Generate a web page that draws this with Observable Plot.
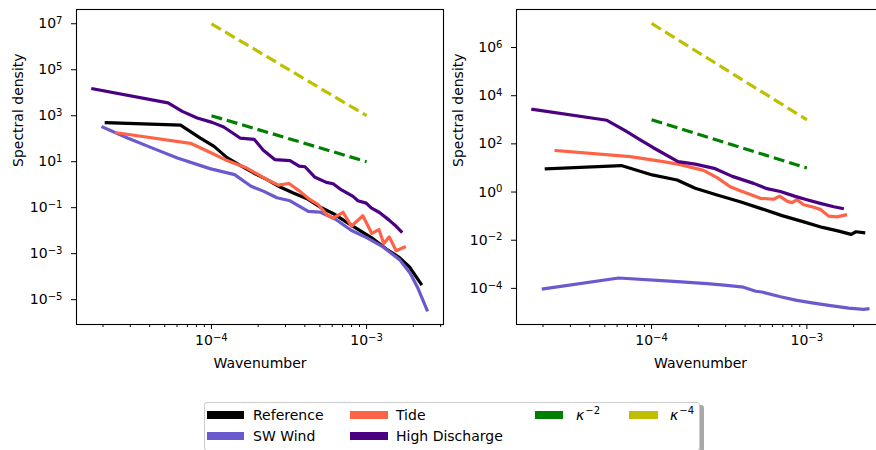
<!DOCTYPE html>
<html>
<head>
<meta charset="utf-8">
<script src="https://cdn.jsdelivr.net/npm/d3@7"></script>
<script src="https://cdn.jsdelivr.net/npm/@observablehq/plot@0.6"></script>
<style>
  html, body { margin: 0; padding: 0; background: #fff; overflow: hidden; }
  #wrap { position: relative; width: 876px; height: 450px; overflow: hidden; font-family: "DejaVu Sans", sans-serif; }
  .panel { position: absolute; top: 0; }
  #legend { position: absolute; left: 204px; top: 402px; width: 494px; height: 47px;
    border: 1px solid #cccccc; border-radius: 3px; background: #fff; box-shadow: 4px 3px 0 #a8a8a8; }
  .lg-patch { position: absolute; height: 8px; }
  .lg-text { position: absolute; font-size: 14px; line-height: 14px; color: #000; white-space: nowrap; }
</style>
</head>
<body>
<div id="wrap">
  <div id="left" class="panel" style="left:0px;width:444px"></div>
  <div id="right" class="panel" style="left:444px;width:441px"></div>
  <div id="legend"></div>
</div>
<script>
// ---------- data ----------
const seriesNames = ["Reference", "SW Wind", "Tide", "High Discharge"];
const seriesColors = ["#000000", "#6a5acd", "#ff6347", "#4b0082"];
const guideNames = ["κ−2", "κ−4"];
const guideColors = ["#008000", "#bfbf00"];

// left panel
const leftRefK = [2.10e-5, 6.32e-5, 8.49e-5, 1.04e-4, 1.26e-4, 1.53e-4, 1.87e-4, 2.28e-4, 2.77e-4, 3.37e-4, 4.10e-4, 5.0e-4, 6.08e-4, 7.41e-4, 9.02e-4, 1.10e-3, 1.34e-3, 1.63e-3, 1.89e-3, 2.24e-3];
const leftRefS = [501, 389, 107, 46.5, 15.1, 6.92, 3.24, 1.65, 0.794, 0.437, 0.251, 0.107, 0.0562, 0.0234, 0.0102, 4.47e-3, 1.58e-3, 6.76e-4, 2.63e-4, 4.9e-5];

const leftWindK = [2.0e-5, 2.88e-5, 4.17e-5, 6.03e-5, 9.77e-5, 1.41e-4, 1.80e-4, 2.16e-4, 2.64e-4, 3.21e-4, 4.21e-4, 5.0e-4, 6.31e-4, 7.94e-4, 1.0e-3, 1.26e-3, 1.63e-3, 1.91e-3, 2.15e-3, 2.45e-3];
const leftWindS = [316, 107, 38.9, 14.5, 5.01, 2.75, 0.851, 0.525, 0.269, 0.2, 0.0692, 0.0646, 0.0316, 0.0105, 5.01e-3, 2.09e-3, 5.5e-4, 1.41e-4, 2.95e-5, 3.55e-6];

const leftTideK = [2.44e-5, 7.33e-5, 1.0e-4, 1.26e-4, 1.69e-4, 2.28e-4, 2.70e-4, 3.16e-4, 3.72e-4, 4.32e-4, 4.88e-4, 5.52e-4, 6.08e-4, 7.05e-4, 7.98e-4, 9.46e-4, 1.08e-3, 1.20e-3, 1.29e-3, 1.40e-3, 1.55e-3, 1.75e-3];
const leftTideS = [182, 63.1, 24.0, 11.2, 5.31, 1.65, 0.955, 1.13, 0.513, 0.223, 0.135, 0.0501, 0.0355, 0.0631, 0.0155, 0.0447, 7.59e-3, 0.0112, 2.75e-3, 5.37e-3, 1.35e-3, 1.91e-3];

const leftHighK = [1.72e-5, 5.25e-5, 6.49e-5, 8.09e-5, 1.01e-4, 1.20e-4, 1.53e-4, 1.89e-4, 2.16e-4, 2.57e-4, 3.21e-4, 3.67e-4, 4.01e-4, 4.65e-4, 5.50e-4, 6.08e-4, 6.89e-4, 8.17e-4, 8.79e-4, 9.95e-4, 1.07e-3, 1.21e-3, 1.39e-3, 1.55e-3, 1.67e-3];
const leftHighS = [1.48e4, 3.63e3, 1.55e3, 794, 513, 324, 107, 93.3, 31.6, 12.3, 11.2, 6.46, 6.03, 2.09, 1.26, 1.10, 0.589, 0.309, 0.2, 0.158, 0.0977, 0.0617, 0.0295, 0.0155, 0.0093];

// right panel
const rightRefK = [2.10e-5, 6.38e-5, 1.01e-4, 1.46e-4, 1.91e-4, 2.64e-4, 3.72e-4, 5.13e-4, 6.92e-4, 9.55e-4, 1.26e-3, 1.58e-3, 1.93e-3, 2.07e-3, 2.32e-3];
const rightRefS = [9.23, 12.6, 5.13, 3.16, 1.43, 0.75, 0.398, 0.2, 0.105, 0.0575, 0.0339, 0.0245, 0.0174, 0.0224, 0.0204];

const rightWindK = [2.01e-5, 6.14e-5, 1.39e-4, 2.28e-4, 3.05e-4, 3.91e-4, 4.68e-4, 5.14e-4, 6.75e-4, 8.63e-4, 1.08e-3, 1.42e-3, 1.86e-3, 2.32e-3, 2.47e-3];
const rightWindS = [9.55e-5, 2.69e-4, 1.95e-4, 1.58e-4, 1.33e-4, 1.12e-4, 7.59e-5, 7.08e-5, 4.47e-5, 3.16e-5, 2.51e-5, 1.91e-5, 1.51e-5, 1.35e-5, 1.41e-5];

const rightTideK = [2.43e-5, 7.29e-5, 1.19e-4, 1.53e-4, 2.16e-4, 2.64e-4, 3.21e-4, 3.72e-4, 4.33e-4, 5.01e-4, 6.11e-4, 6.67e-4, 7.45e-4, 8.02e-4, 8.63e-4, 9.53e-4, 1.08e-3, 1.22e-3, 1.38e-3, 1.56e-3, 1.77e-3];
const rightTideS = [52.5, 29.5, 18.2, 13.8, 7.94, 3.98, 1.66, 1.13, 0.794, 0.55, 0.501, 0.676, 0.417, 0.363, 0.479, 0.295, 0.245, 0.191, 0.1, 0.0933, 0.112];

const rightHighK = [1.72e-5, 5.16e-5, 6.76e-5, 8.45e-5, 1.02e-4, 1.48e-4, 1.91e-4, 2.57e-4, 3.31e-4, 4.54e-4, 5.53e-4, 6.75e-4, 8.41e-4, 1.0e-3, 1.22e-3, 1.49e-3, 1.69e-3];
const rightHighS = [2690, 955, 355, 148, 70.8, 18.2, 14.5, 9.33, 4.47, 2.29, 1.38, 1.05, 0.661, 0.479, 0.339, 0.245, 0.209];

// guide slopes (same in both panels)
const kappaK = [1e-4, 1e-3];
const kappa2S = [1e3, 1e1];
const kappa4S = [1e7, 1e3];

// ticks
const xTicksMajor = [1e-4, 1e-3];
const xTicksMinor = [2e-5, 3e-5, 4e-5, 5e-5, 6e-5, 7e-5, 8e-5, 9e-5, 2e-4, 3e-4, 4e-4, 5e-4, 6e-4, 7e-4, 8e-4, 9e-4, 2e-3, 3e-3];
const yTicksLeft = [1e-5, 1e-3, 1e-1, 1e1, 1e3, 1e5, 1e7];
const yTicksRight = [1e-4, 1e-2, 1e0, 1e2, 1e4, 1e6];

// ---------- drawing ----------
const pts = (ks, ss) => ks.map((k, i) => ({k, s: ss[i]}));
const fmt = d => { const e = Math.round(Math.log10(d)); return "10^" + (e < 0 ? "\u2212" + (-e) : String(e)); };

function panel({series, xDomain, yDomain, yTicks, width, marginLeft}) {
  const marks = [];
  series.forEach(([ks, ss], i) => {
    marks.push(Plot.line(pts(ks, ss), {x: "k", y: "s", stroke: seriesColors[i], strokeWidth: 3.2,
      strokeLinecap: "square", strokeLinejoin: "round"}));
  });
  [kappa2S, kappa4S].forEach((ss, i) => {
    marks.push(Plot.line(pts(kappaK, ss), {x: "k", y: "s", stroke: guideColors[i], strokeWidth: 3.2,
      strokeDasharray: "11,5", strokeLinecap: "butt"}));
  });
  marks.push(Plot.frame({stroke: "#000", strokeWidth: 1.1}));
  marks.push(Plot.axisY({ticks: yTicks, tickFormat: fmt, tickSize: 5, tickPadding: 9, label: null, stroke: "#000", fill: "#000"}));
  marks.push(Plot.axisX({ticks: xTicksMajor, tickFormat: fmt, tickSize: 5, tickPadding: 6, label: null, stroke: "#000", fill: "#000"}));
  marks.push(Plot.axisX({ticks: xTicksMinor, tickFormat: () => "", tickSize: 3, label: null, stroke: "#000"}));
  marks.push(Plot.text(["Wavenumber"], {text: d => d, frameAnchor: "bottom", dy: 43, fontSize: 14, fill: "#000"}));
  marks.push(Plot.text(["Spectral density"], {text: d => d, frameAnchor: "left", rotate: -90, dx: -58, fontSize: 14, fill: "#000"}));
  const svg = Plot.plot({
    width, height: 380,
    marginLeft, marginRight: 1, marginTop: 9, marginBottom: 56,
    style: {fontFamily: "DejaVu Sans", fontSize: "14px", background: "transparent", color: "#000", overflow: "visible"},
    x: {type: "log", domain: xDomain},
    y: {type: "log", domain: yDomain},
    marks
  });
  // mathtext-like superscripts on the tick labels
  const ns = "http://www.w3.org/2000/svg";
  svg.querySelectorAll("text").forEach(t => {
    const m = t.textContent.match(/^10\^(.+)$/);
    if (m) {
      t.textContent = "10";
      const ts = document.createElementNS(ns, "tspan");
      ts.setAttribute("dy", "-0.42em");
      ts.setAttribute("font-size", "0.72em");
      ts.textContent = m[1];
      t.appendChild(ts);
    }
  });
  return svg;
}

document.getElementById("left").appendChild(panel({
  series: [[leftRefK, leftRefS], [leftWindK, leftWindS], [leftTideK, leftTideS], [leftHighK, leftHighS]],
  xDomain: [1.35e-5, 3.13e-3], yDomain: [8.3e-7, 4.17e7], yTicks: yTicksLeft, width: 444, marginLeft: 76
}));
document.getElementById("right").appendChild(panel({
  series: [[rightRefK, rightRefS], [rightWindK, rightWindS], [rightTideK, rightTideS], [rightHighK, rightHighS]],
  xDomain: [1.35e-5, 3.16e-3], yDomain: [3.16e-6, 3.8e7], yTicks: yTicksRight, width: 441, marginLeft: 72
}));

// ---------- legend ----------
const legend = document.getElementById("legend");
const entries = [
  {name: seriesNames[0], color: seriesColors[0], px: 2,   pw: 37, tx: 48,  row: 0},
  {name: seriesNames[1], color: seriesColors[1], px: 2,   pw: 37, tx: 48,  row: 1},
  {name: seriesNames[2], color: seriesColors[2], px: 145, pw: 38, tx: 191, row: 0},
  {name: seriesNames[3], color: seriesColors[3], px: 145, pw: 38, tx: 191, row: 1},
  {name: guideNames[0], color: guideColors[0], px: 330, pw: 28, tx: 371, row: 0, math: "−2"},
  {name: guideNames[1], color: guideColors[1], px: 424, pw: 29, tx: 465, row: 0, math: "−4"}
];
entries.forEach(e => {
  const cy = e.row === 0 ? 12 : 33;
  const p = document.createElement("div");
  p.className = "lg-patch";
  p.style.left = e.px + "px"; p.style.top = (cy - 4) + "px"; p.style.width = e.pw + "px"; p.style.background = e.color;
  legend.appendChild(p);
  const t = document.createElement("div");
  t.className = "lg-text";
  t.style.left = e.tx + "px"; t.style.top = (cy - 7) + "px";
  if (e.math) {
    t.innerHTML = '<span style="font-style:italic">κ</span><span style="font-size:10px;position:relative;top:-6px;margin-left:1px">' + e.math + '</span>';
  } else {
    t.textContent = e.name;
  }
  legend.appendChild(t);
});
</script>
</body>
</html>
